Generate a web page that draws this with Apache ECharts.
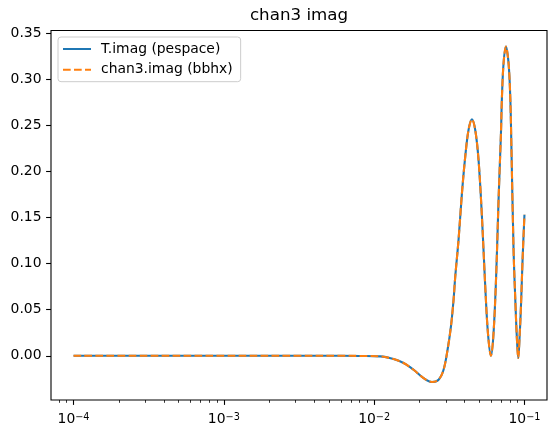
<!DOCTYPE html>
<html><head><meta charset="utf-8">
<script src="https://cdn.jsdelivr.net/npm/echarts@6/dist/echarts.min.js"></script>
<style>html,body{margin:0;padding:0;background:#fff}#c{width:556px;height:438px}</style>
</head><body><div id="c"></div>
<script>
// frequency (x, log scale)
const freq = [0.0001, 0.0003, 0.001, 0.003, 0.006, 0.00808, 0.01098, 0.01346, 0.01569, 0.01829,
  0.02132, 0.02424, 0.02683, 0.02896, 0.03079, 0.03243, 0.03375, 0.03464, 0.03643, 0.03838,
  0.04037, 0.04246, 0.04472, 0.04705, 0.04949, 0.05213, 0.05484, 0.05716, 0.05984, 0.06228,
  0.06492, 0.06725, 0.06977, 0.07084, 0.07261, 0.07532, 0.07838, 0.08045, 0.08170, 0.08463,
  0.08726, 0.08915, 0.09094, 0.09278, 0.09478, 0.09714, 0.1];
// T.imag (pespace)
const tImag = [0, 0, 0, 0, 0, -0.0002, -0.0007, -0.0036, -0.0079, -0.0152,
  -0.0242, -0.0285, -0.026, -0.0152, 0.0065, 0.0318, 0.0607, 0.086, 0.1258, 0.1765,
  0.2162, 0.2451, 0.2567, 0.245, 0.2126, 0.151, 0.0752, 0.0246, 0.0, 0.0246,
  0.0897, 0.1692, 0.2415, 0.281, 0.3175, 0.3355, 0.3175, 0.281, 0.235, 0.115,
  0.0535, 0.0174, -0.0025, 0.02, 0.0535, 0.104, 0.153];
// chan3.imag (bbhx)
const chan3Imag = [0, 0, 0, 0, 0, -0.0002, -0.0007, -0.0036, -0.0079, -0.0152,
  -0.0242, -0.0285, -0.026, -0.0152, 0.0065, 0.0318, 0.0607, 0.086, 0.1258, 0.1765,
  0.2162, 0.2451, 0.2567, 0.245, 0.2126, 0.151, 0.0752, 0.0246, 0.0, 0.0246,
  0.0897, 0.1692, 0.2415, 0.281, 0.3175, 0.3355, 0.3175, 0.281, 0.235, 0.115,
  0.0535, 0.0174, -0.0025, 0.02, 0.0535, 0.104, 0.153];
const seriesNames = ['T.imag (pespace)', 'chan3.imag (bbhx)'];
const xMajorTicks = [1e-4, 1e-3, 1e-2, 1e-1];
const xMinorTicks = [8e-5, 9e-5,
  2e-4, 3e-4, 4e-4, 5e-4, 6e-4, 7e-4, 8e-4, 9e-4,
  2e-3, 3e-3, 4e-3, 5e-3, 6e-3, 7e-3, 8e-3, 9e-3,
  2e-2, 3e-2, 4e-2, 5e-2, 6e-2, 7e-2, 8e-2, 9e-2];
const yTicks = [0, 0.05, 0.10, 0.15, 0.20, 0.25, 0.30, 0.35];

const X_MIN = Math.pow(10, -4.15), X_MAX = Math.pow(10, -0.85);
const FONT = 'DejaVu Sans';
const chart = echarts.init(document.getElementById('c'), null, {renderer: 'canvas'});
const pairs = ys => freq.map((f, i) => [f, ys[i]]);
const xLabelFmt = v => {
  const e = Math.round(Math.log10(v));
  return '{b|10}{s|' + (e < 0 ? '\u2212' + (-e) : e) + '}';
};
chart.setOption({
  animation: false,
  textStyle: {fontFamily: FONT},
  title: {
    text: 'chan3 imag', left: 299, top: 7, textAlign: 'center', padding: 0,
    textStyle: {fontSize: 16.7, fontWeight: 'normal', color: '#000', fontFamily: FONT}
  },
  grid: {left: 51, right: 9, top: 30.5, bottom: 38, show: true, borderColor: '#000', borderWidth: 1.1,
    containLabel: false, outerBoundsMode: 'none'},
  legend: {
    orient: 'vertical', left: 58, top: 37, padding: [5, 8, 5, 4],
    itemWidth: 28, itemHeight: 14, itemGap: 6.7,
    itemStyle: {opacity: 0, borderWidth: 0},
    borderColor: '#cccccc', borderWidth: 1, borderRadius: 3, backgroundColor: 'rgba(255,255,255,0.8)',
    textStyle: {fontSize: 13.9, color: '#000', fontFamily: FONT, padding: [0, 0, 0, 5]},
    data: seriesNames
  },
  xAxis: [{
    type: 'log', logBase: 10, min: X_MIN, max: X_MAX, position: 'bottom',
    axisLine: {show: false, onZero: false},
    splitLine: {show: false},
    axisTick: {show: true, customValues: xMajorTicks, length: 4.9, lineStyle: {color: '#000', width: 1.1}},
    axisLabel: {customValues: xMajorTicks, margin: 12, formatter: xLabelFmt,
      rich: {b: {fontSize: 13.9, color: '#000', fontFamily: FONT},
             s: {fontSize: 9.7, color: '#000', fontFamily: FONT, verticalAlign: 'top', lineHeight: 7}}}
  }, {
    type: 'log', logBase: 10, min: X_MIN, max: X_MAX, position: 'bottom',
    axisLine: {show: false, onZero: false},
    splitLine: {show: false},
    axisLabel: {show: false},
    axisTick: {show: true, customValues: xMinorTicks, length: 2.8, lineStyle: {color: '#000', width: 0.8}}
  }],
  yAxis: {
    type: 'value', min: -0.048, max: 0.353,
    axisLine: {show: false},
    splitLine: {show: false},
    axisTick: {show: true, customValues: yTicks, length: 4.9, lineStyle: {color: '#000', width: 1.1}},
    axisLabel: {customValues: yTicks, margin: 9.5, fontSize: 13.9, color: '#000', fontFamily: FONT,
      formatter: v => v.toFixed(2)}
  },
  series: [{
    name: seriesNames[0], type: 'line', xAxisIndex: 0, data: pairs(tImag),
    symbol: 'none', showSymbol: false, smooth: 0.35,
    lineStyle: {color: '#1f77b4', width: 2.1}, itemStyle: {color: '#1f77b4'}
  }, {
    name: seriesNames[1], type: 'line', xAxisIndex: 0, data: pairs(chan3Imag),
    symbol: 'none', showSymbol: false, smooth: 0.35,
    lineStyle: {color: '#ff7f0e', width: 2.1, type: [7.7, 3.3]}, itemStyle: {color: '#ff7f0e'}
  }]
});
</script></body></html>
